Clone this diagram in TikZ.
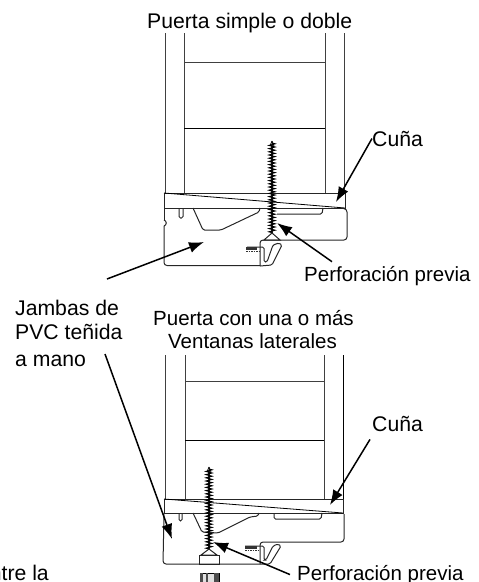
\documentclass[tikz,border=0pt]{standalone}
\usepackage{fontspec}
\setmainfont{Liberation Sans}
\usetikzlibrary{arrows.meta, decorations.pathmorphing}
\tikzset{
  caption/.style={anchor=base west, inner sep=0pt, font=\fontsize{20.5}{24}\selectfont},
  bigcaption/.style={caption, font=\fontsize{21.2}{24}\selectfont},
  jamb/.style={line width=0.9pt, black!75},
  edge/.style={line width=1pt, black!85, rounded corners=1.5pt},
  body/.style={edge, rounded corners=3pt},
  thread/.style={line width=1pt, decorate, decoration={zigzag, segment length=3.2pt, amplitude=3pt}},
  pointer/.style={line width=1.5pt, -{Latex[length=15pt, width=11pt]}},
}
\begin{document}
\begin{tikzpicture}[x=1pt, y=-1pt]
\useasboundingbox (0,0) rectangle (479,582);

% upper door
\node[bigcaption] (titleA) at (147,28) {Puerta simple o doble};
\draw[jamb] (165,33) -- (165,193);
\draw[jamb] (184,33) -- (184,193);
\draw[jamb] (325,33) -- (325,193);
\draw[jamb] (344,33) -- (344,193);
\draw[jamb] (184,62) -- (325,62);
\draw[jamb, black] (184,128) -- (325,128);
% wedge
\draw[edge, rounded corners=0pt] (164,193) rectangle (345,208);
\draw[line width=0.8pt] (164,193) -- (345,208);
% frame
\draw[body] (164,208) -- (164,220);
\draw[edge] (164,220) .. controls (167,221) and (167,225) .. (164,226);
\draw[body] (164,226) -- (164,265.5) -- (260,265.5);
\draw[body] (260,266) -- (260,240) -- (347,240) -- (347,209) -- (340,208);
\draw[edge] (179,208) -- (179,218) -- (183,218) -- (183,208);
\draw[edge] (193,208) -- (203,230) -- (221,230) -- (259,212) -- (260,208);
\draw[edge] (277,214) -- (322,214) -- (323,208);
% clip
\draw[edge] (260,266) -- (272,265) -- (282,245) -- (279,243) -- (273,245) -- (267,262) -- (264,262) -- (264,247) -- (247,247);
\draw[line width=2.5pt, black!80] (246,248.5) -- (257,248.5);
\draw[line width=1pt, black!80, dash pattern=on 1.5pt off 1pt] (246,251.5) -- (260,251.5);
% screw
\fill[black!85] (271.2,145) -- (272.8,145) -- (272.8,233) -- (271.2,233) -- cycle;
\draw[thread] (272,143) -- (272,233);
\draw[line width=0.8pt] (272,141) -- (270,146);
\draw[line width=0.8pt] (272,141) -- (274,146);
\draw[edge, rounded corners=0pt] (272,233) -- (264,240) -- (280,240) -- cycle;

% lower door
\draw[jamb] (165,355) -- (165,499);
\draw[jamb] (185,355) -- (185,499);
\draw[jamb] (324,355) -- (324,499);
\draw[jamb, black] (343,355) -- (343,499);
\draw[jamb] (185,381) -- (324,381);
\draw[jamb, black] (185,440) -- (324,440);
% wedge
\draw[edge, rounded corners=0pt] (164,499) rectangle (343,513);
\draw[line width=0.8pt] (164,499) -- (343,513);
% frame
\draw[body] (164,513) -- (163,564) -- (260,564);
\draw[body] (344,514) -- (344,542) -- (260,542) -- (260,564);
\draw[edge] (179,513) -- (179,521) -- (182,521) -- (182,513);
\draw[edge] (193,513) -- (202,532) -- (218,533) -- (250,517) -- (258,516) -- (259,513);
\draw[edge] (274,513) -- (274,519) -- (321,519) -- (322,513);
% clip
\draw[edge] (260,564) -- (270,564) -- (281,546) -- (278,544) -- (273,546) -- (266,560) -- (264,560) -- (264,546) -- (245,546);
\draw[line width=2.5pt, black!80] (245,547.5) -- (257,547.5);
\draw[line width=1pt, black!80, dash pattern=on 1.5pt off 1pt] (245,550.5) -- (259,550.5);
% screw
\fill[black!85] (208.2,471) -- (209.8,471) -- (209.8,549) -- (208.2,549) -- cycle;
\draw[thread] (209,469) -- (209,549);
\draw[line width=0.8pt] (209,467) -- (207,472);
\draw[line width=0.8pt] (209,467) -- (211,472);
\draw[edge, rounded corners=0pt] (209,549) -- (201,555) -- (217,555) -- cycle;
\draw[edge, rounded corners=0pt] (199,555) rectangle (219,564);
% plug
\draw[line width=0.8pt, fill=black!12] (200,573) rectangle (219,582);
\fill[black!70] (200,573) rectangle (203,582);
\fill[black!70] (206,573) rectangle (208,582);
\fill[black!70] (214,573) rectangle (219,582);

% labels
\node[bigcaption] (cunaA) at (372,146) {Cuña};
\node[caption] (perfA) at (304,281) {Perforación previa};
\node[bigcaption] (jambasA) at (15,315) {Jambas de};
\node[bigcaption] (jambasB) at (15,339) {PVC teñida};
\node[bigcaption] (jambasC) at (15,366) {a mano};
\node[caption] (titleB) at (153,325) {Puerta con una o más};
\node[caption] (titleC) at (168,348) {Ventanas laterales};
\node[bigcaption] (cunaB) at (372,431) {Cuña};
\node[caption] (perfB) at (297,580) {Perforación previa};
\node[bigcaption, anchor=base east] (entre) at (49,580) {entre la};

% arrow ends
\coordinate (tipCunaA) at (336,202);
\coordinate (tipPerfA) at (277,223);
\coordinate (tipJambA) at (204,242);
\coordinate (tailJambA) at (107,279);
\coordinate (tipJambB) at (172,539);
\coordinate (tailJambB) at (105,354);
\coordinate (tipCunaB) at (330,505);
\coordinate (tipPerfB) at (213,542);

\draw[pointer] (cunaA.west) -- (tipCunaA);
\draw[pointer] ([xshift=28pt, yshift=4pt]perfA.north west) -- (tipPerfA);
\draw[pointer] (tailJambA) -- (tipJambA);
\draw[pointer] (tailJambB) -- (tipJambB);
\draw[pointer] ([xshift=-2pt, yshift=-8pt]cunaB.south west) -- (tipCunaB);
\draw[pointer] ([xshift=-7pt]perfB.west) -- (tipPerfB);
\end{tikzpicture}
\end{document}
